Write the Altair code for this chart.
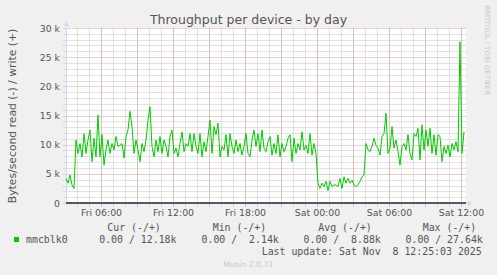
import altair as alt
import pandas as pd

# ---------------- data ----------------
title_text = "Throughput per device - by day"
y_title = "Bytes/second read (-) / write (+)"
series_name = "mmcblk0"
start_time = "2025-11-07 03:05:00"
step_minutes = 10
# write throughput in k bytes/second (read is 0)
write_k = [
    4.2, 3.4, 4.8, 3.1, 2.5, 10.8, 8.5, 10.2, 7.9, 11.9,
    8.5, 10.8, 12.5, 7.1, 11.1, 7.9, 15.1, 7.9, 11.7, 6.5,
    9.1, 10.8, 8.5, 10.2, 9.1, 11.4, 9.7, 9.9, 10.2, 7.7,
    11.4, 12.5, 15.7, 13.1, 8.5, 10.8, 9.1, 7.1, 10.2, 8.8,
    10.8, 14.2, 16.5, 9.7, 7.9, 10.8, 8.8, 11.4, 8.5, 10.8,
    9.7, 7.9, 11.4, 12.5, 8.5, 9.4, 7.9, 10.2, 12.2, 8.8,
    10.2, 9.7, 11.9, 8.8, 11.9, 9.7, 8.5, 11.9, 7.9, 10.5,
    8.8, 11.4, 14.2, 8.5, 13.1, 11.7, 13.7, 7.9, 9.7, 9.1,
    11.7, 7.9, 11.9, 9.7, 8.5, 10.8, 8.8, 10.2, 8.2, 9.7,
    11.9, 8.5, 7.9, 10.8, 12.5, 9.7, 11.9, 8.8, 12.5, 9.4,
    8.8, 10.5, 11.4, 8.2, 10.2, 8.5, 11.7, 7.9, 10.2, 8.8,
    9.7, 11.1, 11.7, 7.1, 11.1, 8.5, 10.2, 9.1, 12.2, 9.1,
    9.9, 8.5, 11.9, 8.2, 10.2, 8.5, 3.4, 2.5, 3.4, 2.8,
    3.7, 2.14, 3.7, 2.8, 3.1, 3.1, 2.8, 4.2, 2.5, 4.5,
    3.4, 4.2, 3.4, 3.9, 3.1, 2.8, 3.1, 3.7, 4.5, 4.8,
    10.2, 9.1, 8.8, 9.7, 11.1, 9.9, 9.4, 8.2, 11.4, 11.9,
    15.4, 8.5, 9.4, 13.1, 9.4, 10.8, 8.8, 6.5, 9.7, 10.2,
    9.1, 11.7, 8.5, 7.4, 11.9, 11.4, 12.8, 7.4, 13.4, 9.1,
    12.5, 9.7, 12.8, 8.5, 11.7, 8.2, 11.7, 11.4, 7.1, 9.7,
    8.5, 9.9, 7.9, 10.2, 9.1, 10.5, 8.8, 27.64, 8.5, 12.18,
]
legend_headers = ["Cur (-/+)", "Min (-/+)", "Avg (-/+)", "Max (-/+)"]
legend_values = ["0.00 / 12.18k", "0.00 / \u00a02.14k", "0.00 / \u00a08.88k", "0.00 / 27.64k"]
last_update = "Last update: Sat Nov \u00a08 12:25:03 2025"
watermark = "Munin 2.0.73"
side_text = "RRDTOOL / TOBI OETIKER"
y_minor = [k * 1000 for k in range(31) if k % 5]
y_major = [k * 1000 for k in range(0, 31, 5)]
hours_minor = list(range(4, 37))       # hours since Fri 00:00
hours_major = list(range(6, 37, 3))

# ---------------- build ----------------
times = pd.date_range(start_time, periods=len(write_k), freq=f"{step_minutes}min")
df = pd.DataFrame({
    "t": times.strftime("%Y-%m-%dT%H:%M:%SZ"),
    "v": [v * 1000 for v in write_k],
})


def dt(h, m=0):
    return alt.DateTime(year=2025, month=11, date=7 + h // 24, hours=h % 24,
                        minutes=m, utc=True)


x_scale = alt.Scale(type="utc", domain=[dt(3, 5), dt(36, 25)], nice=False)
y_scale = alt.Scale(domain=[0, 30000], nice=False, zero=True)

W, H = 400, 175
OX, OY = 66, 28
FONT = "DejaVu Sans"
MONO = "DejaVu Sans Mono"
TXT = "#555555"
GREY = "#C4C4C4"
RED = "#E89A9A"
AXIS = "#CFD6F8"

minor_grid = alt.Chart(df).mark_line(strokeOpacity=0).encode(
    x=alt.X("t:T", scale=x_scale, axis=alt.Axis(
        orient="bottom", values=[dt(h) for h in hours_minor], grid=True,
        gridColor=GREY, gridDash=[1, 1], gridWidth=1, labels=False, domain=False,
        ticks=True, tickColor=GREY, tickSize=4, tickDash=[1, 1], title=None)),
    y=alt.Y("v:Q", scale=y_scale, axis=alt.Axis(
        orient="left", values=y_minor, grid=True, gridColor=GREY,
        gridDash=[1, 1], gridWidth=1, labels=False, domain=False, ticks=True,
        tickColor=GREY, tickSize=3, tickDash=[1, 1], title=None)),
)

major_grid = alt.Chart(df).mark_line(strokeOpacity=0).encode(
    x=alt.X("t:T", scale=x_scale, axis=alt.Axis(
        orient="bottom", values=[dt(h) for h in hours_major], grid=True,
        gridColor=RED, gridDash=[1, 1], gridWidth=1, domain=True,
        domainColor=AXIS, ticks=True, tickColor=RED, tickSize=4, tickDash=[1, 1],
        labelExpr="utchours(datum.value) % 6 == 0 ? utcFormat(datum.value, '%a %H:%M') : ''",
        labelFont=FONT, labelFontSize=9.4, labelColor=TXT, labelPadding=8.5,
        labelBaseline="alphabetic", labelFlush=False, labelOverlap=False,
        title=None)),
    y=alt.Y("v:Q", scale=y_scale, axis=alt.Axis(
        orient="left", values=y_major, grid=True, gridColor=RED,
        gridDash=[1, 1], gridWidth=1, domain=True, domainColor=AXIS,
        ticks=True, tickColor=RED, tickSize=3, tickDash=[1, 1],
        labelExpr="datum.value == 0 ? '0' : (datum.value / 1000) + ' k'",
        labelFont=FONT, labelFontSize=9.3, labelColor=TXT, labelPadding=3.5,
        labelBaseline="middle",
        title=y_title, titleFont=FONT, titleFontSize=10.8, titleFontWeight="normal",
        titleColor=TXT, titleAngle=270, titleX=12 - OX, titleY=H / 2,
        titleAlign="center", titleBaseline="middle")),
)

zero_rule = alt.Chart(df).mark_rule(color="#55556a", strokeWidth=1).encode(
    y=alt.datum(0, scale=y_scale, axis=None)
)

line = alt.Chart(df).mark_line(color="#00CC00", strokeWidth=1,
                               interpolate="linear").encode(
    x=alt.X("t:T", scale=x_scale, axis=None),
    y=alt.Y("v:Q", scale=y_scale, axis=None),
)

one = pd.DataFrame({"a": [0]})


def text(txt, x, y, size, font=FONT, color=TXT, align="left",
         baseline="alphabetic", angle=0):
    return alt.Chart(one).mark_text(
        font=font, fontSize=size, color=color, align=align, baseline=baseline,
        angle=angle,
    ).encode(x=alt.value(x - OX), y=alt.value(y - OY), text=alt.value(txt))


texts = [
    text(title_text, 248.5, 23.5, 12.5, align="center"),
    text(side_text, 487, 5, 7, color="#C8C8C8", align="left",
         baseline="middle", angle=90),
    text(series_name, 26, 242.8, 9.9, font=MONO),
    text(last_update, 261.7, 254.6, 9.9, font=MONO),
    text(watermark, 248, 264.5, 7.6, color="#C8C8C8", align="center",
         baseline="middle"),
]
for hdr, hx in zip(legend_headers, [107.3, 212.7, 318.3, 422.7]):
    texts.append(text(hdr, hx, 231.2, 9.9, font=MONO))
for val, vx in zip(legend_values, [176.5, 278.8, 380.8, 482.8]):
    texts.append(text(val, vx, 242.8, 9.9, font=MONO, align="right"))

legend_box = alt.Chart(one).mark_square(size=25, color="#00CC00", opacity=1).encode(
    x=alt.value(16.5 - OX), y=alt.value(239.5 - OY)
)
arrow_up = alt.Chart(one).mark_point(shape="triangle-up", filled=True, size=28,
                                     color=AXIS, opacity=1).encode(
    x=alt.value(0.5), y=alt.value(-4)
)
arrow_right = alt.Chart(one).mark_point(shape="triangle-right", filled=True, size=28,
                                        color=AXIS, opacity=1).encode(
    x=alt.value(W + 4), y=alt.value(H + 0.5)
)

chart = alt.layer(
    minor_grid, major_grid, zero_rule, line, legend_box, arrow_up, arrow_right,
    *texts
).resolve_axis(x="independent", y="independent").properties(
    width=W, height=H,
    autosize=alt.AutoSizeParams(type="none"),
    padding={"left": OX, "top": OY, "right": 497 - OX - W, "bottom": 275 - OY - H},
    background="#F0F0F0",
).configure_view(fill="white", stroke=None)

chart.save("out.html", embed_options={"renderer": "svg", "actions": False})
